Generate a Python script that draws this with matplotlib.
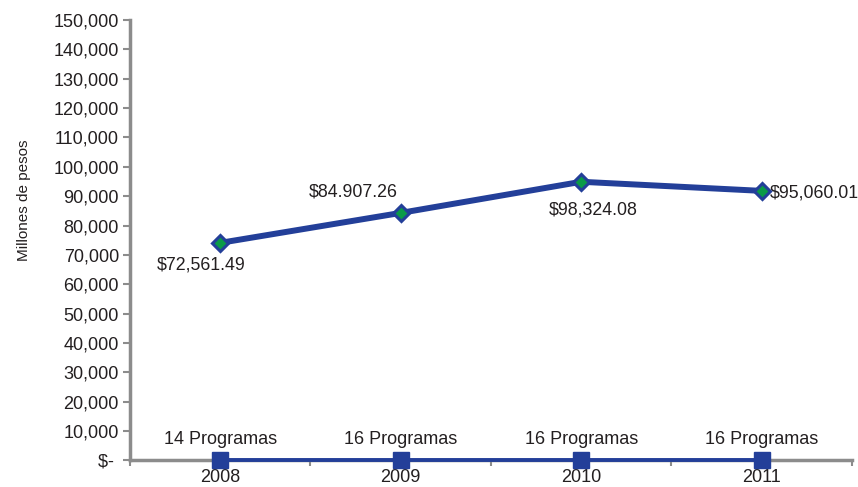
import matplotlib
matplotlib.use("Agg")
import matplotlib.pyplot as plt
from matplotlib.ticker import FuncFormatter, FixedLocator

years = ["2008", "2009", "2010", "2011"]
monto = [74100, 84300, 94900, 91800]
monto_labels = ["$72,561.49", "$84.907.26", "$98,324.08", "$95,060.01"]
programas = [0, 0, 0, 0]
programas_labels = ["14 Programas", "16 Programas", "16 Programas", "16 Programas"]
y_ticks = list(range(0, 150001, 10000))

plt.rcParams["font.family"] = ["Liberation Sans", "DejaVu Sans"]
blue = "#233f99"
green = "#0a9a48"
gray = "#8c8c8c"
txt = "#231f20"

fig = plt.figure(figsize=(8.58, 4.87), dpi=100)
ax = fig.add_axes([0.1515, 0.0545, 0.8415, 0.9045])
x = list(range(len(years)))

ax.plot(x, programas, color=blue, lw=2.8, marker="s", ms=11, mfc=blue, mec=blue,
        zorder=4, clip_on=False)
ax.plot(x, monto, color=blue, lw=4.3, marker="D", ms=8, mfc=green, mec=blue,
        mew=2.2, zorder=5)

# offsets in pixels: (dx of left edge, dy of center)
offsets = [(-63, -22), (-92, 21), (-32, -28), (8, -2)]
for xi, v, lab, (dx, dy) in zip(x, monto, monto_labels, offsets):
    ax.annotate(lab, (xi, v), xytext=(dx, dy), textcoords="offset pixels",
                ha="left", va="center", fontsize=12.8, color=txt)
for xi, v, lab in zip(x, programas, programas_labels):
    ax.annotate(lab, (xi, v), xytext=(0, 21), textcoords="offset pixels",
                ha="center", va="center", fontsize=13, color=txt)

ax.set_xlim(-0.5, 3.5)
ax.set_ylim(0, 150000)
ax.set_xticks(x)
ax.set_xticklabels(years)
ax.xaxis.set_minor_locator(FixedLocator([-0.5, 0.5, 1.5, 2.5, 3.5]))
ax.tick_params(axis="x", which="major", length=0, pad=6.5, labelsize=13, labelcolor=txt)
ax.tick_params(axis="x", which="minor", length=4, width=1.5, color=gray, direction="out")
ax.set_yticks(y_ticks)
ax.yaxis.set_major_formatter(FuncFormatter(lambda v, p: "$- " if v == 0 else f"{int(v):,}"))
ax.tick_params(axis="y", length=5, width=1.5, color=gray, labelsize=13, labelcolor=txt, pad=3)
ax.set_ylabel("Millones de pesos", fontsize=11, color=txt)
ax.yaxis.set_label_coords(-0.137, 0.59)

for s in ["top", "right"]:
    ax.spines[s].set_visible(False)
for s in ["left", "bottom"]:
    ax.spines[s].set_color(gray)
    ax.spines[s].set_linewidth(2.5)

fig.savefig("out.png", dpi=100)
